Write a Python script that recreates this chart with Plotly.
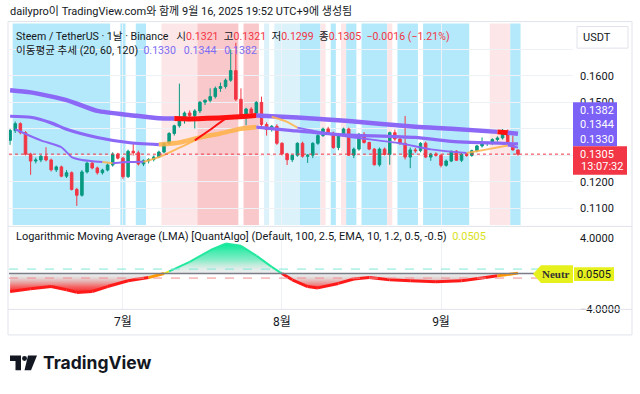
import plotly.graph_objects as go
import pandas as pd

# ---------------- data ----------------
start_day = "2025-06-09"
n_days = 100
opens = [.1357,.1394,.1420,.1386,.1305,.1279,.1283,.1297,.1283,.1246,
         .1257,.1222,.1235,.1172,.1150,.1238,.1271,.1253,.1235,.1245,
         .1264,.1305,.1290,.1220,.1316,.1310,.1268,.1280,.1285,.1294,
         .1313,.1346,.1383,.1412,.1442,.1460,.1450,.1468,.1501,.1508,
         .1522,.1553,.1560,.1584,.1620,.1512,.1454,.1475,.1460,.1500,
         .1417,.1398,.1410,.1346,.1306,.1284,.1301,.1346,.1297,.1301,
         .1346,.1375,.1400,.1384,.1330,.1380,.1400,.1301,.1324,.1380,
         .1349,.1324,.1265,.1324,.1304,.1386,.1362,.1346,.1294,.1321,
         .1318,.1346,.1294,.1305,.1301,.1263,.1279,.1316,.1282,.1304,
         .1300,.1318,.1336,.1345,.1348,.1360,.1366,.1392,.1345,.1321]
highs = [.1400,.1428,.1425,.1392,.1310,.1292,.1302,.1331,.1288,.1262,
         .1262,.1245,.1240,.1178,.1245,.1278,.1280,.1258,.1250,.1270,
         .1312,.1310,.1295,.1322,.1349,.1318,.1285,.1290,.1300,.1318,
         .1350,.1388,.1416,.1571,.1466,.1470,.1475,.1505,.1512,.1553,
         .1560,.1575,.1590,.1700,.1725,.1553,.1480,.1482,.1505,.1522,
         .1425,.1415,.1418,.1350,.1310,.1300,.1350,.1352,.1305,.1350,
         .1380,.1405,.1408,.1390,.1385,.1405,.1405,.1330,.1385,.1388,
         .1352,.1328,.1330,.1330,.1390,.1398,.1370,.1449,.1330,.1328,
         .1350,.1352,.1310,.1312,.1305,.1285,.1318,.1320,.1310,.1308,
         .1322,.1340,.1368,.1352,.1365,.1372,.1400,.1398,.1375,.1321]
lows = [.1340,.1385,.1380,.1300,.1227,.1270,.1275,.1278,.1240,.1238,
        .1218,.1215,.1168,.1110,.1145,.1232,.1248,.1228,.1228,.1240,
        .1258,.1285,.1212,.1215,.1300,.1262,.1260,.1270,.1278,.1290,
        .1308,.1340,.1375,.1405,.1420,.1440,.1402,.1460,.1490,.1500,
        .1515,.1540,.1552,.1578,.1505,.1440,.1414,.1455,.1452,.1410,
        .1375,.1390,.1340,.1300,.1264,.1275,.1295,.1292,.1272,.1290,
        .1340,.1370,.1378,.1325,.1320,.1375,.1298,.1290,.1318,.1345,
        .1320,.1262,.1258,.1300,.1265,.1355,.1340,.1285,.1252,.1310,
        .1312,.1290,.1280,.1296,.1255,.1258,.1275,.1280,.1275,.1295,
        .1295,.1312,.1330,.1336,.1340,.1352,.1360,.1340,.1318,.1299]
closes = [.1394,.1420,.1386,.1305,.1279,.1283,.1297,.1283,.1246,.1257,
          .1222,.1235,.1172,.1150,.1238,.1271,.1253,.1235,.1245,.1264,
          .1305,.1290,.1220,.1316,.1310,.1268,.1280,.1285,.1294,.1313,
          .1346,.1383,.1412,.1442,.1460,.1450,.1468,.1501,.1508,.1522,
          .1553,.1560,.1584,.1620,.1512,.1454,.1475,.1460,.1500,.1417,
          .1398,.1410,.1346,.1306,.1284,.1301,.1346,.1297,.1301,.1346,
          .1375,.1400,.1384,.1330,.1380,.1400,.1301,.1324,.1380,.1349,
          .1324,.1265,.1324,.1304,.1386,.1362,.1346,.1294,.1321,.1318,
          .1346,.1294,.1305,.1301,.1263,.1279,.1316,.1282,.1304,.1300,
          .1318,.1336,.1345,.1348,.1360,.1366,.1392,.1345,.1321,.1305]

# moving-average trend lines (day index, value, state of each segment)
ma20_days = [1, 6, 10, 12, 14, 18, 20, 23, 26, 29, 32, 36, 39, 42, 44, 48, 51, 54, 56, 60, 66, 76, 82, 89, 93, 97, 99]
ma20_vals = [.1399, .1357, .1331, .1294, .1283, .1275, .1271, .1275, .1276, .1294, .1320, .1357, .1397, .1438,
             .1449, .1451, .1446, .1427, .1405, .1390, .1371, .1346, .1323, .1309, .1323, .1338, .1330]
ma20_state = ["n", "n", "n", "n", "n", "w", "n", "n", "w", "w", "w", "u", "u", "u", "u", "n", "w", "w",
              "n", "n", "n", "n", "n", "w", "w", "n"]
ma60_days = [0, 4, 8, 11, 17, 23, 29, 33, 37, 41, 45, 48, 55, 64, 79, 86, 99]
ma60_vals = [.1448, .1444, .1423, .1399, .1368, .1349, .1341, .1349, .1368, .1383, .1401, .1407,
             .1394, .1379, .1368, .1353, .1344]
ma60_state = ["n"] * 6 + ["w"] * 5 + ["n"] * 5
ma120_days = [0, 4, 11, 17, 24, 29, 32, 35, 43, 48, 56, 66, 79, 86, 95, 97, 99]
ma120_vals = [.1546, .1538, .1509, .1468, .1451, .1440, .1439, .1438, .1444, .1451, .1443, .1430,
              .1408, .1401, .1389, .1386, .1382]
ma120_state = ["n"] * 6 + ["u"] * 3 + ["n"] * 5 + ["u", "n"]

# background regime bands (first day, last day, regime)
bands = [(1, 19, "bear"), (22, 22, "bear"), (25, 26, "bear"), (30, 36, "bull_weak"),
         (37, 44, "bull"), (46, 48, "bull"), (50, 50, "bear_weak"), (52, 56, "bear_weak"),
         (57, 60, "bear"), (61, 61, "bull_weak"), (63, 63, "bear"), (65, 65, "bull_weak"),
         (66, 67, "bear"), (69, 73, "bear"), (74, 74, "bull_weak"), (76, 79, "bear"),
         (81, 89, "bear"), (94, 97, "bull_weak"), (98, 99, "bear")]

# Logarithmic Moving Average oscillator
lma_days = [0, 4, 8, 11, 13, 16, 19, 23, 27, 30, 31, 35, 39, 42, 45, 48, 51, 53, 55, 58, 60,
            64, 67, 70, 74, 78, 83, 88, 92, 95, 97, 99]
lma_vals = [-2.0, -1.7, -1.45, -1.8, -2.1, -2.0, -1.45, -0.8, -0.45, 0.0, 0.25, 1.3, 2.6, 3.35,
            3.1, 2.0, 0.75, 0.0, -0.7, -1.45, -1.6, -1.1, -0.6, -0.45, -0.7, -0.8, -0.9, -0.8,
            -0.5, -0.25, -0.1, 0.0505]
lma_upper, lma_lower = 0.5, -0.5

month_ticks = ["2025-07-01", "2025-08-01", "2025-09-01"]
month_text = ["7월", "8월", "9월"]
price_ticks = [0.11, 0.12, 0.13, 0.14, 0.15, 0.16, 0.17]
price_tick_labels = ["0.1100", "0.1200", "", "", "0.1500", "0.1600", ""]
osc_ticks = [4, -4]

# ---------------- helpers ----------------
W, H = 640, 394
def px(x): return x / W
def py(y): return 1 - y / H

d0 = pd.Timestamp(start_day)
dates = pd.date_range(d0, periods=n_days, freq="D")
def day(i): return d0 + pd.Timedelta(days=i)

FONT = "Roboto, 'Noto Sans CJK KR', sans-serif"
TXT = "#131722"
UP, DN = "#089981", "#f23645"
PURPLE = "#8b68f6"
RED_MA = "#ff1010"
ORANGE = "rgba(255,178,70,0.85)"

fig = go.Figure()

# candles
fig.add_trace(go.Candlestick(
    x=dates, open=opens, high=highs, low=lows, close=closes,
    increasing=dict(line=dict(color=UP, width=1), fillcolor=UP),
    decreasing=dict(line=dict(color=DN, width=1), fillcolor=DN),
    whiskerwidth=0, showlegend=False, hoverinfo="skip", xaxis="x", yaxis="y"))

def add_ma(days, vals, states, widths):
    cmap = {"n": PURPLE, "w": ORANGE, "u": RED_MA}
    k, n = 0, len(days)
    while k < n - 1:
        s = states[k]
        j = k
        while j < n - 1 and states[j] == s:
            j += 1
        fig.add_trace(go.Scatter(
            x=[day(d) for d in days[k:j + 1]], y=vals[k:j + 1], mode="lines",
            line=dict(color=cmap[s], width=widths[s], shape="spline", smoothing=0.6),
            hoverinfo="skip", showlegend=False, xaxis="x", yaxis="y"))
        k = j

add_ma(ma120_days, ma120_vals, ma120_state, {"n": 4.5, "w": 4.5, "u": 5})
add_ma(ma60_days, ma60_vals, ma60_state, {"n": 3.2, "w": 4.5, "u": 3})
add_ma(ma20_days, ma20_vals, ma20_state, {"n": 2, "w": 2, "u": 2})

# LMA oscillator fill
lo, hi = -2.2, 3.4
def pos(v): return (v - lo) / (hi - lo)
fig.add_trace(go.Scatter(
    x=[day(d) for d in lma_days], y=lma_vals, mode="lines", line=dict(width=0),
    fill="tozeroy",
    fillgradient=dict(type="vertical", start=lo, stop=hi, colorscale=[
        [0, "rgba(255,0,0,1)"], [pos(-1.3), "rgba(240,70,70,0.8)"],
        [pos(-0.2), "rgba(195,195,195,0.45)"], [pos(0), "rgba(205,205,205,0.35)"],
        [pos(0.6), "rgba(190,215,205,0.45)"], [pos(1.6), "rgba(90,230,180,0.75)"],
        [1, "rgba(0,235,150,1)"]]),
    hoverinfo="skip", showlegend=False, xaxis="x2", yaxis="y2"))

def lma_color(v):
    if v < -0.3: return "#ff1a1a"
    if v < 0: return "#ff9800"
    if v < 0.3: return "#e8ee20"
    return "#22e89e"
for k in range(len(lma_days) - 1):
    m = (lma_vals[k] + lma_vals[k + 1]) / 2
    fig.add_trace(go.Scatter(
        x=[day(lma_days[k]), day(lma_days[k + 1])], y=[lma_vals[k], lma_vals[k + 1]],
        mode="lines", line=dict(color=lma_color(m), width=3 if m < 0 else 2),
        hoverinfo="skip", showlegend=False, xaxis="x2", yaxis="y2"))

# ---------------- shapes ----------------
shapes = []
band_col = {"bear": "#b3e9fa", "bear_weak": "#dcf2fb", "bull_weak": "#fde6e8", "bull": "#f9c8cb"}
for a, b, s in bands:
    shapes.append(dict(type="rect", xref="x", yref="y domain", x0=day(a - 0.5), x1=day(b + 0.5),
                       y0=0, y1=1, fillcolor=band_col[s], line=dict(width=0), layer="below"))
# current price dotted line
shapes.append(dict(type="line", xref="x domain", yref="y", x0=0, x1=1, y0=closes[-1], y1=closes[-1],
                   line=dict(color=DN, width=1, dash="dot")))
# oscillator levels
shapes.append(dict(type="line", xref="paper", yref="y2", x0=px(9), x1=px(573), y0=lma_upper, y1=lma_upper,
                   line=dict(color="#7fe8d8", width=1, dash="dash")))
shapes.append(dict(type="line", xref="paper", yref="y2", x0=px(9), x1=px(573), y0=lma_lower, y1=lma_lower,
                   line=dict(color="#f28a8e", width=1, dash="dash")))
shapes.append(dict(type="line", xref="paper", yref="y2", x0=px(9), x1=px(534), y0=0, y1=0,
                   line=dict(color="#7a7d86", width=1.5)))
# frame & separators
shapes.append(dict(type="rect", xref="paper", yref="paper", x0=px(8), x1=px(632), y0=py(341), y1=py(22),
                   line=dict(color="#e0e3eb", width=1)))
shapes.append(dict(type="line", xref="paper", yref="paper", x0=px(8), x1=px(632), y0=py(230.5), y1=py(230.5),
                   line=dict(color="#e0e3eb", width=1)))
shapes.append(dict(type="line", xref="paper", yref="paper", x0=px(8), x1=px(632), y0=py(315), y1=py(315),
                   line=dict(color="#e0e3eb", width=1)))

def poly(pts, color):
    path = "M " + " L ".join(f"{px(x)},{py(y)}" for x, y in pts) + " Z"
    return dict(type="path", xref="paper", yref="paper", path=path, fillcolor=color, line=dict(width=0))

# price-axis boxes
shapes.append(poly([(573, 104), (617, 104), (617, 149), (573, 149)], "#7b61f5"))
shapes.append(poly([(573, 149), (627, 149), (627, 178), (573, 178)], DN))
shapes.append(dict(type="rect", xref="paper", yref="paper", x0=px(577), x1=px(628), y0=py(49), y1=py(27),
                   fillcolor="white", line=dict(color="#e0e3eb", width=1)))
# Neutral callout + value box
shapes.append(poly([(533, 279), (541, 270), (573, 270), (573, 288), (541, 288)], "#e6f01c"))
shapes.append(poly([(574, 272), (614, 272), (614, 286), (574, 286)], "#e6f01c"))
# TradingView logo mark
shapes.append(poly([(10, 362), (21, 362), (21, 377), (15.5, 377), (15.5, 367.5), (10, 367.5)], TXT))
shapes.append(dict(type="circle", xref="paper", yref="paper", x0=px(22), x1=px(27), y0=py(367.5), y1=py(362.5),
                   fillcolor=TXT, line=dict(width=0)))
shapes.append(poly([(28, 362), (37, 362), (31, 377), (24.5, 377)], TXT))

# ---------------- annotations ----------------
ann = []
def text(x, y, s, size=11.5, color=TXT, anchor="left", **kw):
    ann.append(dict(xref="paper", yref="paper", x=px(x), y=py(y), text=s, showarrow=False,
                    xanchor=anchor, yanchor="middle", font=dict(family=FONT, size=size, color=color), **kw))

NB = "\u00a0"
def red(s): return f"<span style='color:{DN}'>{s}</span>"
def purp(s): return f"<span style='color:#7f6cf2'>{s}</span>"
chg = closes[-1] - closes[-2]
pct = chg / closes[-2] * 100
G2, G3 = NB * 2, NB * 3
text(8, 12, "dailypro이 TradingView.com와 함께 9월 16, 2025 19:52 UTC+9에 생성됨", size=11)
text(14, 37, f"Steem / TetherUS · 1날 · Binance{G3}시{red(f'{opens[-1]:.4f}')}{G2}고{red(f'{highs[-1]:.4f}')}"
             f"{G2}저{red(f'{lows[-1]:.4f}')}{G2}종{red(f'{closes[-1]:.4f}')}{G2}"
             + red(f"{chg:+.4f} ({pct:+.2f}%)".replace("-", "−")), size=10.6)
text(14, 51, f"이동평균 추세 (20, 60, 120){G2}" + purp(f"{ma20_vals[-1]:.4f}{G3}{ma60_vals[-1]:.4f}{G3}{ma120_vals[-1]:.4f}"),
     size=10.6)
text(14, 241, "Logarithmic Moving Average (LMA) [QuantAlgo] (Default, 100, 2.5, EMA, 10, 1.2, 0.5, -0.5)"
     f"{NB}{NB}<span style='color:#d9e21a'>{lma_vals[-1]:.4f}</span>", size=11)
# price axis labels
text(597, 38, "USDT", size=11, anchor="center")
text(597, 112, f"{ma120_vals[-1]:.4f}", size=11, color="white", anchor="center")
text(597, 127, f"{ma60_vals[-1]:.4f}", size=11, color="white", anchor="center")
text(597, 142, f"{ma20_vals[-1]:.4f}", size=11, color="white", anchor="center")
text(597, 157, f"{closes[-1]:.4f}", size=11, color="white", anchor="center")
text(602, 170, "13:07:32", size=11, color="white", anchor="center")
text(594, 279, f"{lma_vals[-1]:.4f}", size=11, anchor="center")
text(556, 279, "<b>Neutr</b>", size=11, color="#333333", anchor="center")
ann[-1]["font"]["family"] = "Liberation Serif, DejaVu Serif, serif"
text(41, 369, "<b>TradingView</b>", size=17.5)
ann[-1]["font"]["family"] = "Inter, Roboto, sans-serif"

# ---------------- layout ----------------
x_range = [day((9 - 10.1) / 5.13), day((573 - 10.1) / 5.13)]
dom_x = [px(9), px(573)]
fig.update_layout(
    width=W, height=H, margin=dict(l=0, r=0, t=0, b=0),
    paper_bgcolor="white", plot_bgcolor="white", showlegend=False,
    font=dict(family=FONT, color=TXT, size=11),
    xaxis=dict(domain=dom_x, range=x_range, anchor="y", type="date", showticklabels=False,
               tickvals=month_ticks, showgrid=True, gridcolor="#eef1f6", zeroline=False,
               rangeslider=dict(visible=False), fixedrange=True),
    xaxis2=dict(domain=dom_x, range=x_range, anchor="y2", type="date", matches="x",
                tickvals=month_ticks, ticktext=month_text, showgrid=True, gridcolor="#eef1f6",
                tickfont=dict(size=12, color=TXT, family=FONT), ticks="", ticklabelstandoff=4,
                zeroline=False),
    yaxis=dict(domain=[py(229), py(24)], range=[0.10381, 0.17974], side="right", anchor="x",
               tickvals=price_ticks, ticktext=price_tick_labels, showgrid=True, gridcolor="#eef1f6",
               zeroline=False, ticks="", ticklabelstandoff=6, tickfont=dict(size=11, color=TXT)),
    yaxis2=dict(domain=[py(315), py(232)], range=[-4.0, 5.1], side="right", anchor="x2",
                tickvals=osc_ticks, tickformat=".4f", showgrid=False, zeroline=False, ticks="",
                ticklabelstandoff=6, tickfont=dict(size=11, color=TXT)),
    shapes=shapes, annotations=ann,
)
fig.write_html("out.html", config={"displayModeBar": False},
               post_script="document.body.style.margin='0';")
